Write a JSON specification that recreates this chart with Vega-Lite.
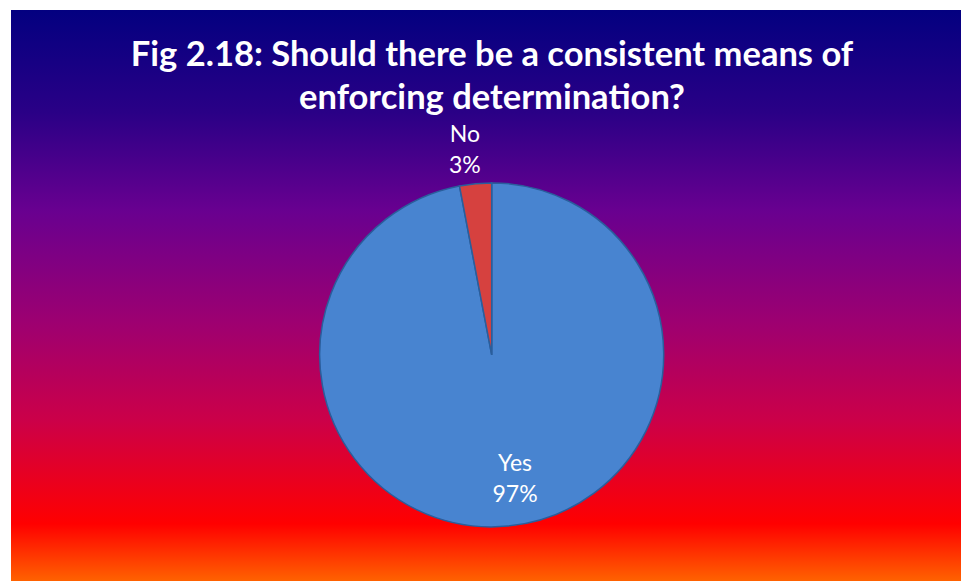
{
  "$schema": "https://vega.github.io/schema/vega-lite/v6.json",
  "width": 962,
  "height": 581,
  "autosize": {"type": "fit", "contains": "padding"},
  "padding": {"left": 11, "top": 10, "right": 1, "bottom": 0},
  "background": "white",
  "config": {
    "view": {
      "stroke": null,
      "fill": {
        "gradient": "linear",
        "x1": 0, "y1": 0, "x2": 0, "y2": 1,
        "stops": [
          {"offset": 0, "color": "#030080"},
          {"offset": 0.18, "color": "#2a0086"},
          {"offset": 0.35, "color": "#680090"},
          {"offset": 0.55, "color": "#9e0070"},
          {"offset": 0.72, "color": "#cc0048"},
          {"offset": 0.9, "color": "#ff0000"},
          {"offset": 1, "color": "#ff6200"}
        ]
      }
    }
  },
  "title": {
    "text": ["Fig 2.18: Should there be a consistent means of", "enforcing determination?"],
    "font": "Lato",
    "fontSize": 34.5,
    "fontWeight": "bold",
    "color": "white",
    "anchor": "middle",
    "lineHeight": 43,
    "offset": -106,
    "dx": 6
  },
  "data": {
    "values": [
      {"category": "Yes", "value": 97, "label": "Yes\n97%", "order": 1},
      {"category": "No", "value": 3, "label": "No\n3%", "order": 2}
    ]
  },
  "transform": [
    {"stack": "value", "sort": [{"field": "order", "order": "ascending"}], "groupby": [], "as": ["v0", "v1"]},
    {"calculate": "(datum.v0 + datum.v1) / 2", "as": "mid"}
  ],
  "encoding": {
    "x": {"datum": 0.506, "type": "quantitative", "scale": {"domain": [0, 1]}, "axis": null},
    "y": {"datum": 0.396, "type": "quantitative", "scale": {"domain": [0, 1]}, "axis": null}
  },
  "layer": [
    {
      "mark": {"type": "arc", "radius": 172, "stroke": "#2a5e9c", "strokeWidth": 1.5},
      "encoding": {
        "theta": {"field": "v0", "type": "quantitative", "scale": {"domain": [0, 100]}},
        "theta2": {"field": "v1"},
        "color": {
          "field": "category",
          "type": "nominal",
          "scale": {"domain": ["Yes", "No"], "range": ["#4884d0", "#d6413f"]},
          "legend": null
        }
      }
    },
    {
      "transform": [{"filter": "datum.category == 'Yes'"}],
      "mark": {"type": "text", "radius": 110, "dx": 13, "font": "Lato", "fontSize": 23, "color": "white", "lineBreak": "\n", "lineHeight": 31},
      "encoding": {
        "theta": {"field": "mid", "type": "quantitative", "scale": {"domain": [0, 100]}},
        "text": {"field": "label"}
      }
    },
    {
      "transform": [{"filter": "datum.category == 'No'"}],
      "mark": {"type": "text", "radius": 221, "dx": -6, "font": "Lato", "fontSize": 23, "color": "white", "lineBreak": "\n", "lineHeight": 31},
      "encoding": {
        "theta": {"field": "mid", "type": "quantitative", "scale": {"domain": [0, 100]}},
        "text": {"field": "label"}
      }
    }
  ]
}
